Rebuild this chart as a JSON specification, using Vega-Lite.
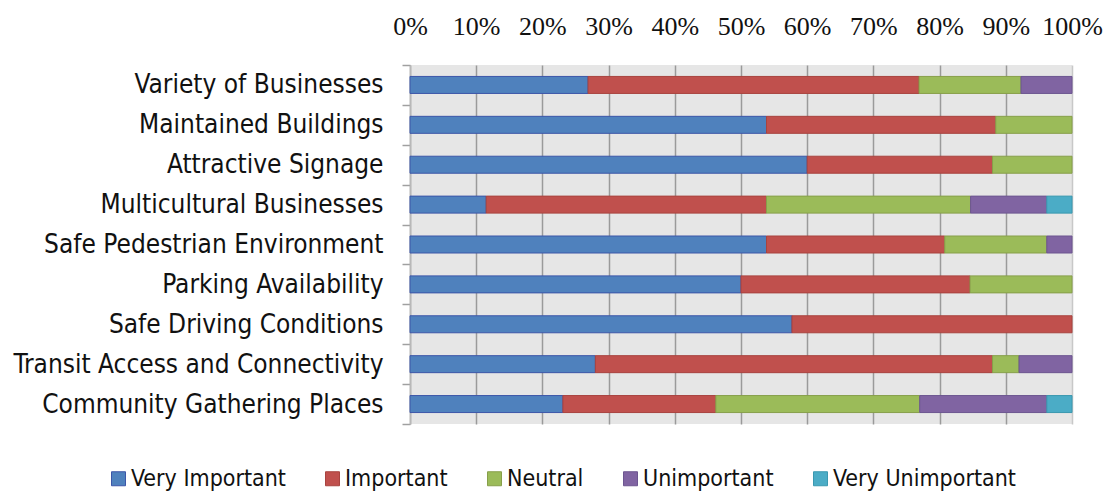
{
  "$schema": "https://vega.github.io/schema/vega-lite/v6.json",
  "autosize": "none",
  "width": 662,
  "height": 359,
  "padding": {"left": 410, "top": 65, "right": 35, "bottom": 67},
  "background": "white",
  "data": {
    "values": [
      {"item": "Variety of Businesses", "rating": "Very Important", "rank": 1, "pct": 26.9},
      {"item": "Variety of Businesses", "rating": "Important", "rank": 2, "pct": 50.0},
      {"item": "Variety of Businesses", "rating": "Neutral", "rank": 3, "pct": 15.4},
      {"item": "Variety of Businesses", "rating": "Unimportant", "rank": 4, "pct": 7.7},
      {"item": "Maintained Buildings", "rating": "Very Important", "rank": 1, "pct": 53.8},
      {"item": "Maintained Buildings", "rating": "Important", "rank": 2, "pct": 34.6},
      {"item": "Maintained Buildings", "rating": "Neutral", "rank": 3, "pct": 11.5},
      {"item": "Attractive Signage", "rating": "Very Important", "rank": 1, "pct": 60.0},
      {"item": "Attractive Signage", "rating": "Important", "rank": 2, "pct": 28.0},
      {"item": "Attractive Signage", "rating": "Neutral", "rank": 3, "pct": 12.0},
      {"item": "Multicultural Businesses", "rating": "Very Important", "rank": 1, "pct": 11.5},
      {"item": "Multicultural Businesses", "rating": "Important", "rank": 2, "pct": 42.3},
      {"item": "Multicultural Businesses", "rating": "Neutral", "rank": 3, "pct": 30.8},
      {"item": "Multicultural Businesses", "rating": "Unimportant", "rank": 4, "pct": 11.5},
      {"item": "Multicultural Businesses", "rating": "Very Unimportant", "rank": 5, "pct": 3.8},
      {"item": "Safe Pedestrian Environment", "rating": "Very Important", "rank": 1, "pct": 53.8},
      {"item": "Safe Pedestrian Environment", "rating": "Important", "rank": 2, "pct": 26.9},
      {"item": "Safe Pedestrian Environment", "rating": "Neutral", "rank": 3, "pct": 15.4},
      {"item": "Safe Pedestrian Environment", "rating": "Unimportant", "rank": 4, "pct": 3.8},
      {"item": "Parking Availability", "rating": "Very Important", "rank": 1, "pct": 50.0},
      {"item": "Parking Availability", "rating": "Important", "rank": 2, "pct": 34.6},
      {"item": "Parking Availability", "rating": "Neutral", "rank": 3, "pct": 15.4},
      {"item": "Safe Driving Conditions", "rating": "Very Important", "rank": 1, "pct": 57.7},
      {"item": "Safe Driving Conditions", "rating": "Important", "rank": 2, "pct": 42.3},
      {"item": "Transit Access and Connectivity", "rating": "Very Important", "rank": 1, "pct": 28.0},
      {"item": "Transit Access and Connectivity", "rating": "Important", "rank": 2, "pct": 60.0},
      {"item": "Transit Access and Connectivity", "rating": "Neutral", "rank": 3, "pct": 4.0},
      {"item": "Transit Access and Connectivity", "rating": "Unimportant", "rank": 4, "pct": 8.0},
      {"item": "Community Gathering Places", "rating": "Very Important", "rank": 1, "pct": 23.1},
      {"item": "Community Gathering Places", "rating": "Important", "rank": 2, "pct": 23.1},
      {"item": "Community Gathering Places", "rating": "Neutral", "rank": 3, "pct": 30.8},
      {"item": "Community Gathering Places", "rating": "Unimportant", "rank": 4, "pct": 19.2},
      {"item": "Community Gathering Places", "rating": "Very Unimportant", "rank": 5, "pct": 3.8}
    ]
  },
  "mark": {"type": "bar", "strokeWidth": 1, "size": 17},
  "encoding": {
    "y": {
      "field": "item",
      "type": "nominal",
      "sort": ["Variety of Businesses", "Maintained Buildings", "Attractive Signage", "Multicultural Businesses", "Safe Pedestrian Environment", "Parking Availability", "Safe Driving Conditions", "Transit Access and Connectivity", "Community Gathering Places"],
      "scale": {"paddingInner": 0, "paddingOuter": 0},
      "axis": {
        "title": null,
        "orient": "left",
        "tickBand": "extent",
        "ticks": true,
        "tickSize": 8,
        "tickColor": "#a0a0a0",
        "tickWidth": 1.5,
        "domain": true,
        "domainColor": "#b8b8b8",
        "domainWidth": 1.5,
        "labelFont": "DejaVu Sans Condensed",
        "labelFontSize": 26,
        "labelColor": "#111111",
        "labelPadding": 19,
        "labelLimit": 0
      }
    },
    "x": {
      "field": "pct",
      "type": "quantitative",
      "stack": "normalize",
      "scale": {"domain": [0, 1], "nice": false},
      "axis": {
        "title": null,
        "orient": "top",
        "format": ".0%",
        "values": [0, 0.1, 0.2, 0.3, 0.4, 0.5, 0.6, 0.7, 0.8, 0.9, 1],
        "domain": false,
        "ticks": false,
        "grid": true,
        "gridColor": {"condition": {"test": "datum.value >= 1", "value": "#c8c8c8"}, "value": "#9a9a9a"},
        "gridWidth": 1.5,
        "labelFont": "Liberation Serif",
        "labelFontSize": 26,
        "labelColor": "#111111",
        "labelPadding": 26,
        "labelFlush": false,
        "labelOverlap": false
      }
    },
    "color": {
      "field": "rating",
      "type": "nominal",
      "scale": {
        "domain": ["Very Important", "Important", "Neutral", "Unimportant", "Very Unimportant"],
        "range": ["#4f81bd", "#c0504d", "#9bbb59", "#8064a2", "#4bacc6"]
      },
      "legend": {
        "title": null,
        "orient": "none",
        "direction": "horizontal",
        "legendX": -303,
        "legendY": 402,
        "symbolType": "square",
        "symbolSize": 196,
        "symbolStrokeWidth": 1,
        "labelFont": "DejaVu Sans Condensed",
        "labelFontSize": 23,
        "labelColor": "#111111",
        "labelOffset": 1,
        "columnPadding": 35,
        "labelLimit": 0
      }
    },
    "stroke": {
      "field": "rating",
      "type": "nominal",
      "scale": {
        "domain": ["Very Important", "Important", "Neutral", "Unimportant", "Very Unimportant"],
        "range": ["#3c56a8", "#a8433f", "#879f4a", "#6c5590", "#3a98b0"]
      },
      "legend": null
    },
    "order": {"field": "rank", "type": "quantitative"}
  },
  "config": {
    "view": {"fill": "#e6e6e6", "stroke": null}
  }
}
